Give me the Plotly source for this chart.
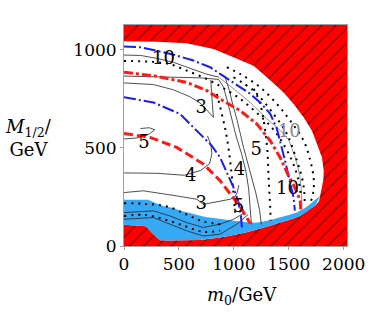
import plotly.graph_objects as go

# ---------------- data (GeV) ----------------
frame_x = [0, 2030, 2030, 0]
frame_y = [0, 0, 1125, 1125]

# allowed region outline (white), clockwise from top-left
allowed_x = [0, 300, 571, 815, 997, 1179, 1301, 1453, 1544, 1635, 1711, 1757, 1802, 1818,
             1815, 1800, 1785, 1775, 1740, 1696, 1604, 1500, 1422, 1267, 1118, 966, 875,
             693, 400, 328, 267, 200, 0]
allowed_y = [1042, 1040, 1032, 1003, 961, 918, 859, 782, 723, 655, 587, 519, 451, 383,
             340, 295, 255, 228, 205, 189, 153, 132, 119, 93, 70, 52, 43,
             30, 28, 29, 60, 100, 108]

# light-blue band (upper edge; lower edge follows the allowed outline)
band_top_x = [0, 220, 265, 355, 450, 510, 602, 665, 755, 850, 1000, 1100, 1200, 1267,
              1350, 1422, 1500, 1574, 1650, 1696, 1740, 1785]
band_top_y = [235, 235, 224, 204, 194, 180, 168, 158, 146, 140, 128, 122, 118, 125,
              135, 146, 158, 170, 195, 214, 235, 255]

# red dash-dot (outer) and red dashed (inner)
red_out_x = [0, 267, 571, 754, 875, 1057, 1210, 1331, 1422, 1498, 1544, 1574, 1604, 1610]
red_out_y = [884, 867, 833, 791, 748, 689, 621, 536, 450, 357, 310, 275, 230, 180]
red_in_x = [0, 237, 480, 723, 875, 997, 1058, 1100, 1134, 1149]
red_in_y = [573, 553, 502, 417, 332, 246, 200, 160, 130, 115]

# blue dash-dot (outer) and (inner)
blue_out_x = [0, 146, 267, 450, 632, 784, 875, 997, 1149, 1250, 1331, 1390, 1430, 1468,
              1498, 1530, 1544, 1555]
blue_out_y = [1015, 1012, 998, 974, 944, 910, 876, 833, 775, 725, 673, 600, 520, 430,
              357, 290, 246, 180]
blue_in_x = [0, 267, 510, 678, 800, 875, 950, 997, 1043, 1065, 1075]
blue_in_y = [757, 731, 672, 580, 510, 450, 360, 298, 221, 150, 80]

# solid black contours
c10_x = [0, 150, 300, 450, 600, 750, 860]
c10_y = [972, 970, 955, 935, 905, 875, 860]
cA_x = [0, 300, 510, 693, 860, 905, 940, 975, 1020, 1070, 1110, 1135, 1150, 1160]
cA_y = [865, 862, 860, 856, 848, 810, 740, 660, 560, 470, 380, 290, 190, 110]
cB_x = [920, 960, 990, 1030, 1088, 1149, 1200, 1235, 1250]
cB_y = [860, 790, 720, 640, 502, 383, 270, 180, 110]
c3a_x = [0, 267, 450, 600, 700, 760, 814, 805, 795, 790]
c3a_y = [830, 822, 795, 760, 725, 690, 655, 720, 790, 845]
c4_x = [0, 300, 550, 700, 780, 800, 790, 760]
c4_y = [372, 370, 360, 385, 420, 470, 520, 560]
c5_x = [0, 120, 230, 280, 230, 150]
c5_y = [545, 550, 570, 592, 602, 598]
c3c_x = [0, 176, 480, 663, 723, 875, 966, 1003, 1030, 1045]
c3c_y = [272, 281, 255, 238, 212, 229, 238, 246, 270, 310]
low1_x = [0, 267, 419, 571, 723, 875, 997, 1100]
low1_y = [170, 179, 153, 119, 94, 111, 136, 170]
low2_x = [0, 267, 419, 571, 723, 875, 1027, 1130]
low2_y = [136, 145, 111, 77, 51, 60, 111, 160]

# gray contour
g10_x = [860, 1000, 1150, 1300, 1420, 1500, 1560, 1600, 1615, 1620]
g10_y = [860, 800, 730, 648, 590, 540, 450, 360, 280, 200]

# dotted contours
d1_x = [0, 267, 420, 571, 754, 900, 1050, 1200, 1350, 1460, 1540, 1590, 1610]
d1_y = [942, 937, 925, 893, 850, 805, 752, 682, 600, 510, 420, 330, 250]
d2_x = [936, 1057, 1240, 1392, 1513, 1635, 1696, 1726, 1725, 1700]
d2_y = [910, 876, 808, 723, 638, 536, 434, 349, 280, 225]
d3_x = [997, 1179, 1361, 1483, 1574, 1620, 1640, 1645]
d3_y = [859, 791, 672, 570, 434, 349, 280, 210]
d4_x = [845, 900, 936, 966, 997, 1010]
d4_y = [774, 650, 553, 434, 264, 170]
d5_x = [1180, 1240, 1300, 1316, 1331, 1335]
d5_y = [800, 723, 519, 349, 196, 130]
d6_x = [0, 200, 400, 571, 723, 900]
d6_y = [218, 214, 200, 160, 125, 110]
d7_x = [0, 200, 400, 571, 723, 875]
d7_y = [153, 158, 130, 98, 72, 78]

# contour labels
lab_x = [359, 702, 182, 608, 702, 1043, 1052, 1204, 1489]
lab_y = [947, 702, 522, 352, 209, 196, 386, 488, 289]
lab_t = ["10", "3", "5", "4", "3", "5", "4", "5", "10"]
glab_x = [1505]
glab_y = [578]
glab_t = ["10"]

# ---------------- figure ----------------
SERIF = "DejaVu Serif"
fig = go.Figure()

fig.add_trace(go.Scatter(x=frame_x, y=frame_y, fill="toself", mode="none",
                         fillcolor="#ff0000",
                         fillpattern=dict(shape="/", bgcolor="#ff0000", fgcolor="black",
                                          size=10, solidity=0.12),
                         hoverinfo="skip"))
fig.add_trace(go.Scatter(x=allowed_x, y=allowed_y, fill="toself", mode="none",
                         fillcolor="white", hoverinfo="skip"))
band_x = band_top_x + allowed_x[18:]
band_y = band_top_y + allowed_y[18:]
fig.add_trace(go.Scatter(x=band_x, y=band_y, fill="toself", mode="none",
                         fillcolor="#36a9f5", hoverinfo="skip"))

def line(x, y, color, width, dash="solid"):
    fig.add_trace(go.Scatter(x=x, y=y, mode="lines",
                             line=dict(color=color, width=width, dash=dash),
                             hoverinfo="skip"))

def dots(x, y, color="black"):
    fig.add_trace(go.Scatter(x=x, y=y, mode="lines",
                             line=dict(color=color, width=2, dash="2px,5px", shape="spline"),
                             hoverinfo="skip"))

for xs, ys in [(c10_x, c10_y), (cA_x, cA_y), (cB_x, cB_y), (c3a_x, c3a_y), (c4_x, c4_y),
               (c5_x, c5_y), (c3c_x, c3c_y), (low1_x, low1_y), (low2_x, low2_y)]:
    line(xs, ys, "#222222", 0.8)
line(g10_x, g10_y, "#888888", 0.9)
for xs, ys in [(d1_x, d1_y), (d2_x, d2_y), (d3_x, d3_y), (d4_x, d4_y), (d5_x, d5_y),
               (d6_x, d6_y), (d7_x, d7_y)]:
    dots(xs, ys)

line(blue_out_x, blue_out_y, "#1a1aff", 2, "12px,3px,2px,3px")
line(blue_in_x, blue_in_y, "#1a1aff", 2, "12px,3px,2px,3px")
line(red_out_x, red_out_y, "#ff1a1a", 3, "9px,3px,3px,3px")
line(red_in_x, red_in_y, "#ff1a1a", 3, "9px,4px")

fig.add_trace(go.Scatter(x=lab_x, y=lab_y, mode="text", text=lab_t,
                         textfont=dict(family=SERIF, size=18, color="black"),
                         hoverinfo="skip"))
fig.add_trace(go.Scatter(x=glab_x, y=glab_y, mode="text", text=glab_t,
                         textfont=dict(family=SERIF, size=18, color="#888888"),
                         hoverinfo="skip"))

axis_common = dict(showgrid=False, zeroline=False, showline=True, mirror=True,
                   linecolor="#a0a0a0", linewidth=1, ticks="outside", ticklen=3,
                   tickcolor="#a0a0a0", automargin=False,
                   tickfont=dict(family=SERIF, size=17, color="black"))
fig.update_xaxes(range=[0, 2030], tickvals=[0, 500, 1000, 1500, 2000], **axis_common)
fig.update_yaxes(range=[0, 1125], tickvals=[0, 500, 1000], **axis_common)

fig.add_annotation(text="<i>m</i><sub>0</sub>/GeV", xref="paper", yref="paper",
                   x=0.53, y=-0.225, xanchor="center", yanchor="middle", showarrow=False,
                   font=dict(family=SERIF, size=18, color="black"))
fig.add_annotation(text="<i>M</i><sub>1/2</sub>/<br>GeV", xref="paper", yref="paper",
                   x=-0.43, y=0.49, xanchor="center", yanchor="middle", showarrow=False,
                   align="center", font=dict(family=SERIF, size=18, color="black"))

fig.update_layout(width=374, height=313, margin=dict(l=124, r=27, t=25, b=67),
                  plot_bgcolor="white", paper_bgcolor="white", showlegend=False,
                  font=dict(family=SERIF))
fig.write_html("out.html", config={"displayModeBar": False},
               post_script="document.body.style.margin='0px';")
